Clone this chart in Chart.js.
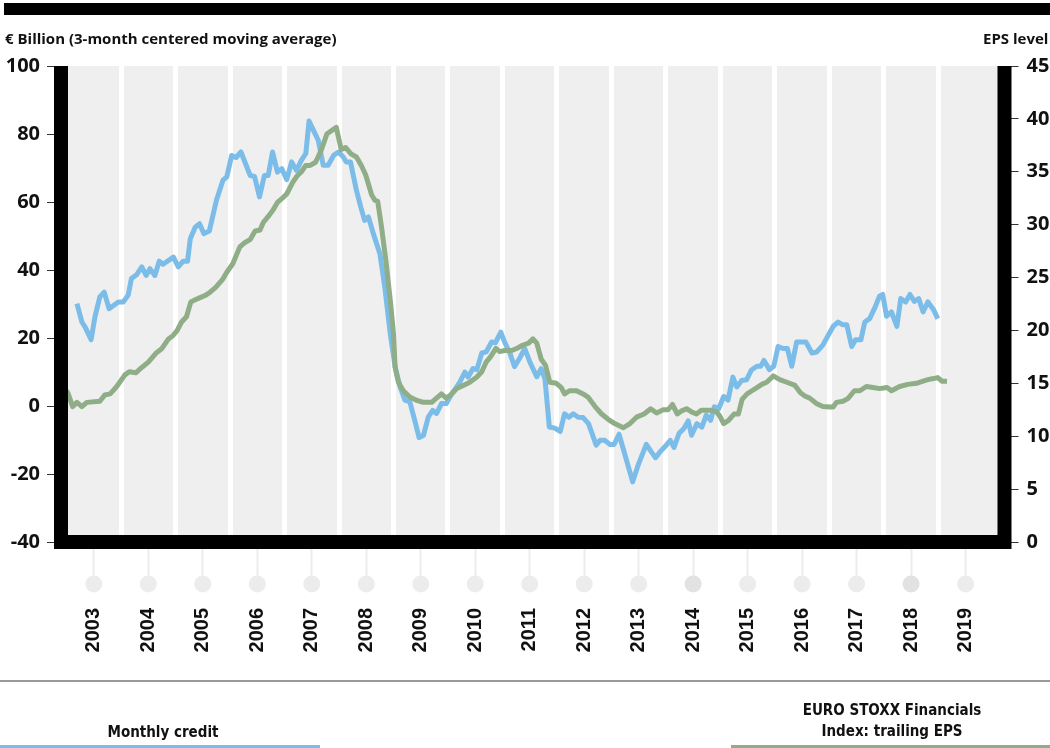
<!DOCTYPE html>
<html>
<head>
<meta charset="utf-8">
<script src="https://cdn.jsdelivr.net/npm/chart.js@4.4.1/dist/chart.umd.min.js"></script>
<style>
  body { margin: 0; background: #fff; }
  #wrap { position: relative; width: 1050px; height: 748px; overflow: hidden; font-family: "Open Sans", sans-serif; }
  #myChart { position: absolute; left: 0; top: 0; }
  .topbar { position: absolute; left: 4px; right: 0; top: 3px; height: 12px; background: #000; }
  .axtitle { position: absolute; top: 28px; font-size: 15px; font-weight: 700; color: #111; white-space: nowrap; }
  .sep { position: absolute; left: 0; top: 680px; width: 1050px; height: 2px; background: #9a9a9a; }
  .leg { position: absolute; text-align: center; font-family: "Liberation Sans Narrow", "DejaVu Sans Condensed", sans-serif; font-stretch: condensed; font-weight: 700; font-size: 15px; line-height: 21px; color: #111; }
  .legline { position: absolute; top: 745px; height: 3px; }
</style>
</head>
<body>
<div id="wrap">
  <canvas id="myChart" width="1050" height="748"></canvas>
  <div class="topbar"></div>
  <div class="axtitle" style="left:5px;">€ Billion (3-month centered moving average)</div>
  <div class="axtitle" style="left:983px;">EPS level</div>
  <div class="sep"></div>
  <div class="leg" style="left:63px; width:200px; top:722px;">Monthly credit</div>
  <div class="legline" style="left:0; width:320px; background:#7bbde8;"></div>
  <div class="leg" style="left:792px; width:200px; top:700px;">EURO STOXX Financials<br>Index: trailing EPS</div>
  <div class="legline" style="left:731px; width:319px; background:#8fad86;"></div>
</div>
<script>
// Credito mensual (eje izquierdo, € bn)
const creditDates = [2003.19, 2003.28, 2003.34, 2003.45, 2003.52, 2003.61, 2003.69, 2003.78, 2003.95, 2004.04,
  2004.13, 2004.19, 2004.29, 2004.38, 2004.46, 2004.53, 2004.62, 2004.70, 2004.77, 2004.96,
  2005.05, 2005.14, 2005.22, 2005.27, 2005.36, 2005.44, 2005.52, 2005.62, 2005.75, 2005.87,
  2005.94, 2006.03, 2006.11, 2006.20, 2006.37, 2006.45, 2006.54, 2006.63, 2006.70, 2006.78,
  2006.87, 2006.95, 2007.04, 2007.13, 2007.22, 2007.31, 2007.39, 2007.45, 2007.56, 2007.62,
  2007.71, 2007.80, 2007.90, 2007.99, 2008.08, 2008.13, 2008.21, 2008.32, 2008.40, 2008.47,
  2008.54, 2008.63, 2008.75, 2008.84, 2008.94, 2009.03, 2009.12, 2009.21, 2009.30, 2009.39,
  2009.47, 2009.55, 2009.64, 2009.72, 2009.79, 2009.88, 2009.97, 2010.07, 2010.16, 2010.22,
  2010.31, 2010.37, 2010.46, 2010.53, 2010.62, 2010.70, 2010.80, 2010.87, 2010.97, 2011.04,
  2011.14, 2011.22, 2011.31, 2011.41, 2011.51, 2011.63, 2011.71, 2011.78, 2011.86, 2011.96,
  2012.06, 2012.14, 2012.22, 2012.30, 2012.39, 2012.48, 2012.58, 2012.72, 2012.79, 2012.88,
  2012.97, 2013.05, 2013.14, 2013.26, 2013.39, 2013.49, 2013.64, 2013.72, 2013.81, 2013.89,
  2013.98, 2014.08, 2014.15, 2014.24, 2014.33, 2014.41, 2014.47, 2014.57, 2014.66, 2014.74,
  2014.82, 2014.89, 2014.97, 2015.06, 2015.14, 2015.23, 2015.30, 2015.39, 2015.48, 2015.57,
  2015.67, 2015.74, 2015.80, 2015.90, 2015.98, 2016.06, 2016.15, 2016.23, 2016.31, 2016.40,
  2016.57, 2016.68, 2016.77, 2016.88, 2016.98, 2017.07, 2017.16, 2017.24, 2017.32, 2017.41,
  2017.48, 2017.58, 2017.65, 2017.74, 2017.84, 2017.92, 2017.98, 2018.05, 2018.14, 2018.24,
  2018.31, 2018.40, 2018.48, 2018.56, 2018.64, 2018.72, 2018.81, 2018.91, 2018.99];
const creditValues = [30.1, 24.7, 23.2, 19.5, 26.2, 32.1, 33.5, 28.6, 30.6, 30.6,
  32.6, 37.5, 38.7, 40.9, 38.4, 40.4, 38.4, 42.6, 41.7, 43.8,
  40.9, 42.6, 42.6, 49.2, 52.6, 53.6, 50.7, 51.5, 60.5, 66.4,
  67.4, 73.7, 73.1, 74.7, 67.8, 67.5, 61.5, 67.8, 67.8, 74.7,
  68.8, 69.8, 66.6, 71.8, 69.3, 72.3, 74.2, 83.8, 80.1, 78.1,
  70.8, 70.8, 73.7, 74.7, 73.2, 71.8, 71.8, 63.4, 58.5, 54.6,
  55.6, 50.7, 44.8, 35.0, 21.3, 11.5, 5.6, 1.7, 1.2, -4.2,
  -9.3, -8.6, -3.2, -1.3, -2.2, 0.7, 0.7, 3.6, 5.6, 7.1,
  10.0, 8.5, 11.0, 10.7, 15.6, 15.9, 18.8, 18.6, 21.7, 18.8,
  15.4, 11.6, 13.9, 16.9, 12.7, 8.6, 11.0, 8.0, -6.2, -6.5,
  -7.5, -2.3, -3.3, -2.3, -3.3, -3.4, -5.2, -11.5, -10.1, -10.1,
  -11.3, -11.3, -8.3, -15.0, -22.3, -17.4, -11.3, -13.2, -15.2, -13.5,
  -12.0, -10.1, -12.2, -8.1, -6.6, -4.4, -8.6, -5.2, -6.2, -2.7,
  -4.2, -0.2, -0.8, 2.8, 1.7, 8.5, 5.6, 7.5, 7.7, 10.6,
  11.7, 11.7, 13.4, 10.7, 11.7, 17.5, 16.9, 16.9, 11.7, 18.8,
  18.8, 15.6, 15.9, 17.9, 20.8, 23.4, 24.7, 23.9, 23.9, 17.5,
  19.5, 19.5, 24.7, 25.7, 29.1, 32.3, 32.8, 26.4, 27.7, 23.4,
  31.6, 30.6, 32.8, 30.8, 31.6, 27.7, 30.6, 28.4, 25.7];

// EPS EURO STOXX Financials (eje derecho)
const epsDates = [2003.00, 2003.03, 2003.11, 2003.19, 2003.28, 2003.37, 2003.61, 2003.70, 2003.80, 2003.92,
  2004.07, 2004.15, 2004.27, 2004.38, 2004.50, 2004.65, 2004.75, 2004.87, 2004.95, 2005.03,
  2005.11, 2005.20, 2005.28, 2005.36, 2005.45, 2005.54, 2005.63, 2005.74, 2005.86, 2005.94,
  2006.05, 2006.18, 2006.27, 2006.37, 2006.46, 2006.55, 2006.61, 2006.72, 2006.79, 2006.87,
  2006.96, 2007.04, 2007.15, 2007.23, 2007.31, 2007.39, 2007.47, 2007.57, 2007.67, 2007.78,
  2007.95, 2008.04, 2008.12, 2008.22, 2008.32, 2008.41, 2008.49, 2008.60, 2008.66, 2008.71,
  2008.78, 2008.86, 2008.94, 2009.00, 2009.03, 2009.09, 2009.18, 2009.30, 2009.42, 2009.55,
  2009.70, 2009.79, 2009.88, 2009.97, 2010.07, 2010.16, 2010.28, 2010.40, 2010.53, 2010.62,
  2010.70, 2010.78, 2010.88, 2010.95, 2011.04, 2011.17, 2011.26, 2011.37, 2011.48, 2011.56,
  2011.63, 2011.71, 2011.79, 2011.87, 2011.99, 2012.08, 2012.14, 2012.23, 2012.36, 2012.48,
  2012.57, 2012.70, 2012.82, 2012.94, 2013.06, 2013.22, 2013.34, 2013.46, 2013.60, 2013.72,
  2013.83, 2013.95, 2014.04, 2014.12, 2014.21, 2014.29, 2014.38, 2014.47, 2014.56, 2014.65,
  2014.83, 2014.93, 2014.99, 2015.06, 2015.15, 2015.25, 2015.33, 2015.40, 2015.49, 2015.58,
  2015.67, 2015.76, 2015.85, 2015.97, 2016.09, 2016.22, 2016.37, 2016.47, 2016.55, 2016.64,
  2016.76, 2016.88, 2017.01, 2017.07, 2017.13, 2017.25, 2017.34, 2017.46, 2017.56, 2017.68,
  2017.80, 2017.92, 2018.06, 2018.14, 2018.29, 2018.44, 2018.60, 2018.72, 2018.81, 2018.91,
  2018.99, 2019.07, 2019.16];
const epsValues = [14.3, 14.0, 12.8, 13.2, 12.8, 13.2, 13.3, 13.9, 14.0, 14.7,
  15.8, 16.1, 16.0, 16.5, 17.0, 17.9, 18.3, 19.2, 19.5, 20.0,
  20.8, 21.3, 22.7, 22.9, 23.1, 23.3, 23.6, 24.1, 24.8, 25.5,
  26.3, 27.9, 28.3, 28.6, 29.4, 29.5, 30.2, 30.9, 31.4, 32.1,
  32.5, 32.9, 34.0, 34.6, 35.0, 35.6, 35.6, 35.9, 37.0, 38.6,
  39.2, 37.1, 37.3, 36.7, 36.4, 35.6, 34.7, 32.8, 32.3, 32.2,
  29.8, 26.6, 22.9, 19.7, 16.5, 15.1, 14.3, 13.7, 13.4, 13.2,
  13.2, 13.6, 14.0, 13.6, 14.0, 14.5, 14.8, 15.1, 15.6, 16.1,
  17.0, 17.5, 18.3, 18.0, 18.1, 18.1, 18.3, 18.6, 18.8, 19.2,
  18.8, 17.3, 16.7, 15.1, 15.0, 14.6, 14.0, 14.3, 14.3, 14.0,
  13.7, 12.8, 12.1, 11.6, 11.2, 10.8, 11.2, 11.8, 12.1, 12.6,
  12.2, 12.5, 12.5, 13.0, 12.1, 12.4, 12.6, 12.3, 12.1, 12.45,
  12.45, 12.3, 11.9, 11.2, 11.5, 12.1, 12.1, 13.5, 14.0, 14.3,
  14.6, 14.9, 15.1, 15.7, 15.35, 15.1, 14.8, 14.1, 13.8, 13.6,
  13.1, 12.8, 12.76, 12.76, 13.2, 13.3, 13.55, 14.3, 14.3, 14.7,
  14.6, 14.5, 14.6, 14.3, 14.7, 14.9, 15.0, 15.2, 15.35, 15.45,
  15.54, 15.2, 15.2];

const yearLabels = ['2003', '2004', '2005', '2006', '2007', '2008', '2009', '2010', '2011',
  '2012', '2013', '2014', '2015', '2016', '2017', '2018', '2019'];

const toPoints = (xs, ys) => xs.map((x, i) => ({ x: x, y: ys[i] }));

// fondo gris + marco negro + puntos bajo el eje
const framePlugin = {
  id: 'frame',
  beforeDraw(chart) {
    const { ctx, chartArea: a } = chart;
    ctx.save();
    ctx.fillStyle = '#efefef';
    ctx.fillRect(a.left, a.top, a.right - a.left, a.bottom - a.top);
    ctx.restore();
  },
  afterDraw(chart) {
    const { ctx, chartArea: a } = chart;
    ctx.save();
    ctx.strokeStyle = '#000';
    ctx.lineWidth = 14;
    ctx.lineJoin = 'miter';
    ctx.lineCap = 'butt';
    ctx.beginPath();
    ctx.moveTo(a.left, a.top);
    ctx.lineTo(a.left, a.bottom);
    ctx.lineTo(a.right, a.bottom);
    ctx.lineTo(a.right, a.top);
    ctx.stroke();

    const xs = chart.scales.x;
    xs.ticks.forEach(t => {
      if (Number.isInteger(t.value)) return;
      const yr = Math.floor(t.value);
      ctx.fillStyle = (yr === 2014 || yr === 2018) ? '#e2e2e2' : '#ececec';
      ctx.beginPath();
      ctx.arc(xs.getPixelForValue(t.value), a.bottom + 42, 8.5, 0, Math.PI * 2);
      ctx.fill();
    });
    ctx.restore();
  }
};

const isYearEdge = (c) => c.tick && Number.isInteger(c.tick.value);

const ctx = document.getElementById('myChart');
const myChart = new Chart(ctx, {
  type: 'line',
  data: {
    datasets: [{
      label: 'EURO STOXX Financials Index: trailing EPS',
      data: toPoints(epsDates, epsValues),
      yAxisID: 'y1',
      borderColor: '#8fad86',
      borderWidth: 5,
      pointRadius: 0,
      tension: 0,
      borderJoinStyle: 'round'
    }, {
      label: 'Monthly credit',
      data: toPoints(creditDates, creditValues),
      yAxisID: 'y',
      borderColor: '#7bbde8',
      borderWidth: 5,
      pointRadius: 0,
      tension: 0,
      borderJoinStyle: 'round'
    }]
  },
  options: {
    responsive: false,
    animation: false,
    layout: { padding: { top: 66, left: 0, right: 0, bottom: 0 } },
    plugins: {
      legend: { display: false },
      tooltip: { enabled: false }
    },
    scales: {
      x: {
        type: 'linear',
        min: 2002.897,
        max: 2020.215,
        afterBuildTicks: (scale) => {
          const t = [];
          yearLabels.forEach((y, i) => {
            t.push({ value: 2003 + i + 0.5 });
            if (i > 0) t.push({ value: 2003 + i });
          });
          scale.ticks = t;
        },
        afterFit: (scale) => { scale.height = 748 - 542; },
        border: { display: false },
        grid: {
          color: (c) => isYearEdge(c) ? '#ffffff' : 'rgba(0,0,0,0)',
          lineWidth: 5,
          drawTicks: true,
          tickLength: 42,
          tickWidth: 2,
          tickColor: (c) => isYearEdge(c) ? 'rgba(0,0,0,0)' : '#ececec'
        },
        ticks: {
          autoSkip: false,
          minRotation: 90,
          maxRotation: 90,
          padding: 24,
          color: '#111',
          font: { family: 'Liberation Sans', weight: 'bold', size: 20 },
          callback: (v) => Number.isInteger(v) ? '' : yearLabels[Math.floor(v) - 2003]
        }
      },
      y: {
        position: 'left',
        min: -40,
        max: 100,
        afterFit: (scale) => { scale.width = 61; },
        border: { display: false },
        grid: { drawOnChartArea: false, drawTicks: true, tickLength: 14, tickColor: '#333', tickWidth: 1 },
        ticks: {
          stepSize: 20,
          padding: 7,
          color: '#111',
          font: { family: 'Open Sans', weight: 'bold', size: 20 }
        }
      },
      y1: {
        position: 'right',
        min: 0,
        max: 45,
        afterFit: (scale) => { scale.width = 45.5; },
        border: { display: false },
        grid: { drawOnChartArea: false, drawTicks: true, tickLength: 14, tickColor: '#333', tickWidth: 1 },
        ticks: {
          stepSize: 5,
          padding: 8,
          color: '#111',
          font: { family: 'Open Sans', weight: 'bold', size: 20 }
        }
      }
    }
  },
  plugins: [framePlugin]
});
</script>
</body>
</html>
